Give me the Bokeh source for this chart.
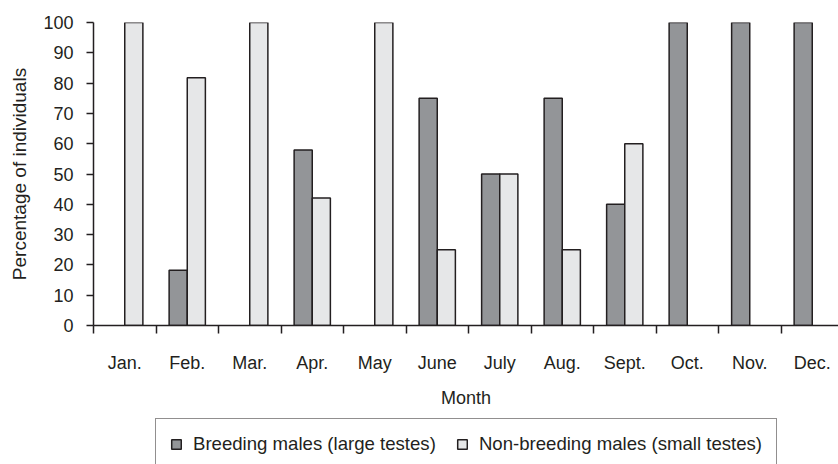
from bokeh.plotting import figure
from bokeh.models import (ColumnDataSource, Range1d, FixedTicker, Legend, LegendItem)
from bokeh.layouts import column
from bokeh.embed import file_html
from bokeh.resources import INLINE

months = ["Jan.", "Feb.", "Mar.", "Apr.", "May", "June", "July", "Aug.", "Sept.", "Oct.", "Nov.", "Dec."]
breeding = [0, 18.2, 0, 57.9, 0, 75, 50, 75, 40, 100, 100, 100]
non_breeding = [100, 81.8, 100, 42.1, 100, 25, 50, 25, 60, 0, 0, 0]
y_ticks = [0, 10, 20, 30, 40, 50, 60, 70, 80, 90, 100]
series_names = ["Breeding males (large testes)", "Non-breeding males (small testes)"]

TEXT = "#231f20"
DARK = "#939598"
LIGHT = "#e6e7e8"
FONT = "Liberation Sans"
BW = 0.29

def make_src(vals, offset):
    xs, tops = [], []
    for i, v in enumerate(vals):
        if v > 0:
            xs.append(i + 0.5 + offset)
            tops.append(v)
    return ColumnDataSource(dict(x=xs, top=tops))

p = figure(width=838, height=410, output_backend="svg", toolbar_location=None,
           x_range=Range1d(0, 11.92), y_range=Range1d(0, 100),
           min_border_left=93, min_border_right=0, min_border_top=22, min_border_bottom=77)
p.outline_line_color = None
p.grid.visible = False
p.background_fill_color = "white"
p.border_fill_color = "white"

p.vbar(x="x", top="top", bottom=0, width=BW, source=make_src(breeding, -BW / 2),
       fill_color=DARK, line_color=TEXT, line_width=1.5)
p.vbar(x="x", top="top", bottom=0, width=BW, source=make_src(non_breeding, BW / 2),
       fill_color=LIGHT, line_color=TEXT, line_width=1.5)

xa = p.xaxis[0]
xa.ticker = FixedTicker(ticks=[i + 0.5 for i in range(len(months))],
                        minor_ticks=list(range(len(months) + 1)))
xa.major_label_overrides = {i + 0.5: m for i, m in enumerate(months)}
xa.major_tick_out = 0
xa.major_tick_in = 0
xa.minor_tick_out = 8
xa.minor_tick_in = 0
xa.minor_tick_line_color = TEXT
xa.minor_tick_line_width = 1.5
xa.major_label_standoff = 19
xa.axis_label = "Month"
xa.axis_label_standoff = 12

ya = p.yaxis[0]
ya.ticker = FixedTicker(ticks=y_ticks)
ya.major_tick_out = 7
ya.major_tick_in = 0
ya.minor_tick_out = 0
ya.minor_tick_in = 0
ya.major_label_standoff = 13
ya.axis_label = "Percentage of individuals"
ya.axis_label_standoff = 10

for ax in (xa, ya):
    ax.axis_line_color = TEXT
    ax.axis_line_width = 1.5
    ax.major_tick_line_color = TEXT
    ax.major_tick_line_width = 1.5
    ax.major_label_text_font = FONT
    ax.major_label_text_font_size = "18px"
    ax.major_label_text_color = TEXT
    ax.axis_label_text_font = FONT
    ax.axis_label_text_font_size = "18px"
    ax.axis_label_text_font_style = "normal"
    ax.axis_label_text_color = TEXT
ya.axis_label_text_font_size = "19px"

# legend strip below the chart; its swatch renderers are hidden behind the legend box
leg = figure(width=838, height=54, output_backend="svg", toolbar_location=None,
             x_range=Range1d(0, 1), y_range=Range1d(0, 1),
             x_axis_location=None, y_axis_location=None,
             min_border_left=93, min_border_right=0, min_border_top=0, min_border_bottom=0)
leg.outline_line_color = None
leg.grid.visible = False
leg.background_fill_color = "white"
leg.border_fill_color = "white"
lr1 = leg.vbar(x=[0.5], top=[0.5], bottom=[0.5], width=0.01, fill_color=DARK, line_color=TEXT, line_width=1.5)
lr2 = leg.vbar(x=[0.5], top=[0.5], bottom=[0.5], width=0.01, fill_color=LIGHT, line_color=TEXT, line_width=1.5)
legend = Legend(items=[LegendItem(label=series_names[0], renderers=[lr1]),
                       LegendItem(label=series_names[1], renderers=[lr2])],
                location=(62, -6), orientation="horizontal",
                glyph_width=12, glyph_height=12, label_standoff=11, spacing=20,
                padding=14, margin=0,
                label_text_font=FONT, label_text_font_size="18.6px", label_text_color=TEXT,
                border_line_color=TEXT, border_line_width=1.2,
                background_fill_color="white", background_fill_alpha=1.0)
leg.add_layout(legend, "center")

layout = column(p, leg, spacing=0)
open("out.html", "w").write(file_html(layout, INLINE))
